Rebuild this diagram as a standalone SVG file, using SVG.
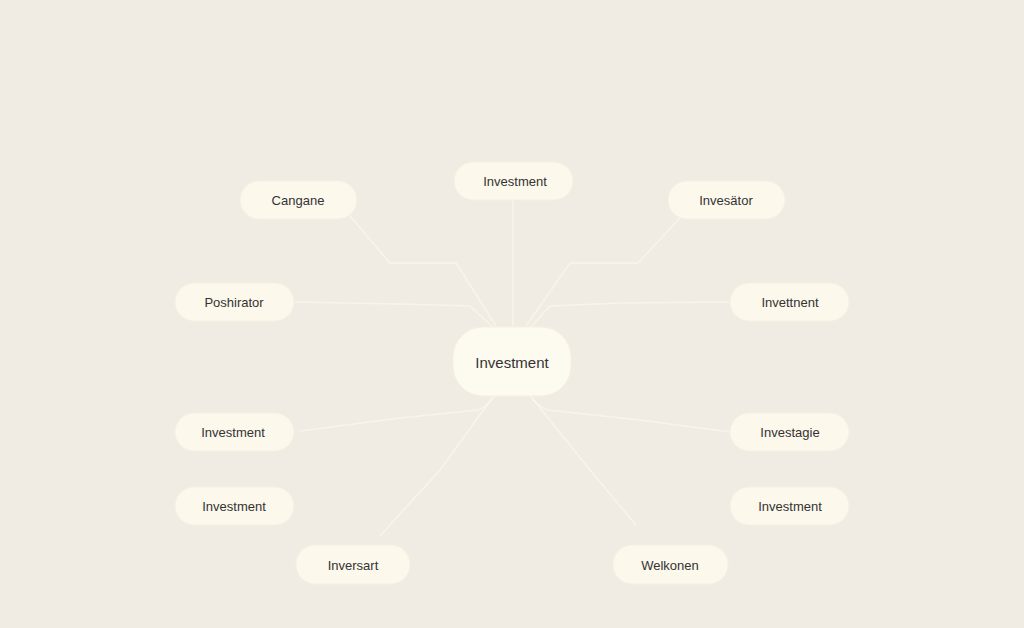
<svg xmlns="http://www.w3.org/2000/svg" width="1024" height="628" viewBox="0 0 1024 628">
<defs>
<style>
.bg{fill:#f1ece3}
.node rect{fill:#fcf8ec;stroke:#f7f0e1;stroke-width:1}
.center rect{fill:#fdfaf0}
.node text{font-family:"Liberation Sans",Arial,sans-serif;font-size:13px;fill:#333333;text-anchor:middle;dominant-baseline:central}
.center text{font-size:15px}
.conn path{fill:none;stroke:#fbf8f1;stroke-width:1.5;stroke-linecap:round;stroke-linejoin:round;opacity:0.7}
</style>
</defs>
<rect class="bg" x="0" y="0" width="1024" height="628"/>
<g class="conn" id="connectors">
<path d="M350,216 L390,263 L456,263 L496,326"/>
<path d="M513,200 L513,327"/>
<path d="M680,218 L638,263 L570,263 L526,326"/>
<path d="M294,302 L400,304 L470,306 L496,330"/>
<path d="M730,302 L620,303 L550,306 L528,330"/>
<path d="M300,431 L400,418 L478,410 Q490,405 495,395"/>
<path d="M730,432 L640,420 L548,410 Q535,405 530,395"/>
<path d="M380,536 L440,470 L492,398"/>
<path d="M636,525 L590,470 L532,398"/>
</g>
<g class="node" id="n-cangane"><rect x="240" y="181" width="117" height="38" rx="19"/><text x="298" y="200">Cangane</text></g>
<g class="node" id="n-top"><rect x="454" y="162" width="119" height="38" rx="19"/><text x="515" y="181">Investment</text></g>
<g class="node" id="n-invesator"><rect x="668" y="181" width="117" height="38" rx="19"/><text x="726" y="200">Invesätor</text></g>
<g class="node" id="n-poshirator"><rect x="175" y="283" width="119" height="38" rx="19"/><text x="234" y="302">Poshirator</text></g>
<g class="node" id="n-invettnent"><rect x="730" y="283" width="119" height="38" rx="19"/><text x="790" y="302">Invettnent</text></g>
<g class="node center" id="n-center"><rect x="453" y="327" width="118" height="69" rx="30"/><text x="512" y="362">Investment</text></g>
<g class="node" id="n-left1"><rect x="175" y="413" width="119" height="38" rx="19"/><text x="233" y="432">Investment</text></g>
<g class="node" id="n-investagie"><rect x="730" y="413" width="119" height="38" rx="19"/><text x="790" y="432">Investagie</text></g>
<g class="node" id="n-left2"><rect x="175" y="487" width="119" height="38" rx="19"/><text x="234" y="506">Investment</text></g>
<g class="node" id="n-right2"><rect x="730" y="487" width="119" height="38" rx="19"/><text x="790" y="506">Investment</text></g>
<g class="node" id="n-inversart"><rect x="296" y="545" width="114" height="39" rx="19"/><text x="353" y="565">Inversart</text></g>
<g class="node" id="n-welkonen"><rect x="613" y="545" width="115" height="39" rx="19"/><text x="670" y="565">Welkonen</text></g>
</svg>
